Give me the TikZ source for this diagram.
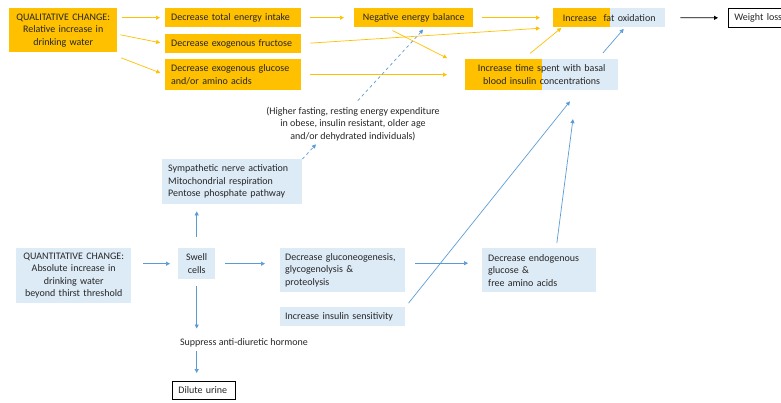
\documentclass[tikz,border=0pt]{standalone}
\usepackage{fontspec}
\setmainfont{Carlito}
\usetikzlibrary{arrows.meta,positioning,calc}
\definecolor{ink}{RGB}{38,38,38}
\definecolor{qual}{RGB}{255,192,0}
\definecolor{quant}{RGB}{221,235,247}
\definecolor{flow}{RGB}{91,155,213}
\tikzset{
  box/.style={anchor=north west,inner xsep=6pt,inner ysep=2pt,
    font=\fontsize{10}{12.5}\selectfont,text=ink,align=left},
  obox/.style={box,fill=qual},
  bbox/.style={box,fill=quant},
  kbox/.style={box,draw=black,fill=white,line width=0.8pt},
  plain/.style={inner sep=1pt,font=\fontsize{10}{12.5}\selectfont,text=ink,align=center},
  halfor/.style={path picture={\fill[qual] (path picture bounding box.south west)
    rectangle ([xshift=#1]path picture bounding box.north west);}},
  oarr/.style={-{Triangle[length=4pt,width=4pt]},line width=0.7pt,qual},
  barr/.style={-{Triangle[length=4pt,width=4pt]},line width=0.7pt,flow},
  karr/.style={-{Triangle[length=4pt,width=4pt]},line width=0.8pt,black},
}

\begin{document}
\begin{tikzpicture}[x=1pt,y=-1pt]
  \useasboundingbox (0,0) rectangle (781,403);
  % qualitative branch
  \node[obox,text width=96pt,minimum height=44pt,align=center] (ql) at (9,8)
    {QUALITATIVE CHANGE:\\Relative increase in\\drinking water};
  \node[obox,text width=124pt,minimum height=19pt] (tot) at (165,8) {Decrease total energy intake};
  \node[obox,text width=124pt,minimum height=19pt] (fru) at (165,34) {Decrease exogenous fructose};
  \node[obox,text width=124pt,minimum height=31pt] (glu) at (165,59)
    {Decrease exogenous glucose\\and/or amino acids};
  \node[obox,text width=107pt,minimum height=19pt,align=center] (neg) at (354,8) {Negative energy balance};
  \node[bbox,halfor=57pt,text width=100pt,minimum height=19pt,align=center] (fat) at (553,8)
    {Increase\ \ fat oxidation};
  \node[kbox,text width=60pt,minimum height=19pt] (wl) at (728,8) {Weight loss};
  \node[bbox,halfor=77pt,text width=141pt,minimum height=31pt,align=center] (tim) at (465,59)
    {Increase time spent with basal\\blood insulin concentrations};
  % quantitative branch
  \node[bbox,text width=103pt,minimum height=55pt,align=center] (qn) at (16,248)
    {QUANTITATIVE CHANGE:\\Absolute increase in\\drinking water\\beyond thirst threshold};
  \node[bbox,text width=25pt,minimum height=31pt,align=center] (sw) at (178,248) {Swell\\cells};
  \node[bbox,text width=128pt,minimum height=45pt] (sy) at (162,159)
    {Sympathetic nerve activation\\Mitochondrial respiration\\Pentose phosphate pathway};
  \node[bbox,inner xsep=5pt,text width=115pt,minimum height=44pt] (gng) at (280,248)
    {Decrease gluconeogenesis,\\glycogenolysis \&\\proteolysis};
  \node[bbox,inner xsep=5pt,text width=115pt,minimum height=19pt] (sen) at (280,307)
    {Increase insulin sensitivity};
  \node[bbox,text width=102pt,minimum height=44pt] (endo) at (482,248)
    {Decrease endogenous\\glucose \&\\free amino acids};
  \node[plain] (adh) at (244,343) {Suppress anti-diuretic hormone};
  \node[kbox,inner xsep=6pt,text width=51pt,minimum height=18pt] (dil) at (172,381) {Dilute urine};
  \node[plain] (note) at (353,124)
    {(Higher fasting, resting energy expenditure\\in obese, insulin resistant, older age\\and/or dehydrated individuals)};

  \draw[oarr,shorten <=5pt,shorten >=5pt] (ql.east |- tot.west) -- (tot.west);
  \draw[oarr,shorten <=3pt,shorten >=5pt] ([yshift=-4pt]ql.east) -- (fru.west);
  \draw[oarr,shorten <=4pt,shorten >=5pt] ([yshift=-4pt]ql.south east) -- (glu.west);
  \draw[oarr,shorten <=9pt,shorten >=10pt] (tot) -- (neg);
  \draw[oarr,shorten <=9pt,shorten >=13pt] (neg) -- (fat);
  \draw[oarr,shorten <=9pt,shorten >=13pt] (fru.east) -- (fat.south west);
  \draw[oarr,shorten <=9pt,shorten >=18pt] (glu) -- (tim);
  \draw[oarr,shorten <=7pt,shorten >=20pt] ([xshift=-27.5pt]neg.south) -- ([yshift=7.5pt]tim.west);
  \draw[oarr,shorten <=9pt,shorten >=1pt] ([xshift=-18.5pt]tim.north) -- ([xshift=9pt]fat.south west);
  \draw[barr,shorten <=8pt,shorten >=2pt] ([xshift=56pt]tim.north) -- ([xshift=72pt]fat.south west);
  \draw[karr,shorten <=15pt,shorten >=10pt] (fat) -- (wl);

  \draw[barr,shorten <=12pt,shorten >=8pt] (qn.east |- sw.west) -- (sw.west);
  \draw[barr,shorten <=10pt,shorten >=15pt] (sw.east) -- (sw.east -| gng.west);
  \draw[barr,shorten <=11pt,shorten >=7pt] (sw.north) -- (sw.north |- sy.south);
  \draw[barr,shorten <=7pt,shorten >=9pt] (sw.south) -- (sw.south |- adh.north);
  \draw[barr,shorten <=3pt,shorten >=8pt] (sw.south |- adh.south) -- (sw.south |- dil.north);
  \draw[barr,shorten <=10pt,shorten >=14pt] ([yshift=7pt]gng.east) -- ([yshift=7pt]endo.west);
  \draw[barr,shorten <=5pt,shorten >=14pt] (sen.north east) -- ([xshift=37pt]tim.south);
  \draw[barr,shorten <=5pt,shorten >=29pt] ([xshift=17pt]endo.north) -- ([xshift=35pt]tim.south);
  \draw[barr,dashed,shorten >=3pt] (sy.north east) -- ([xshift=-35pt]note.south);
  \draw[barr,dashed,shorten <=7pt,shorten >=3pt] (note.north) -- ([xshift=11.5pt]neg.south);
\end{tikzpicture}
\end{document}
